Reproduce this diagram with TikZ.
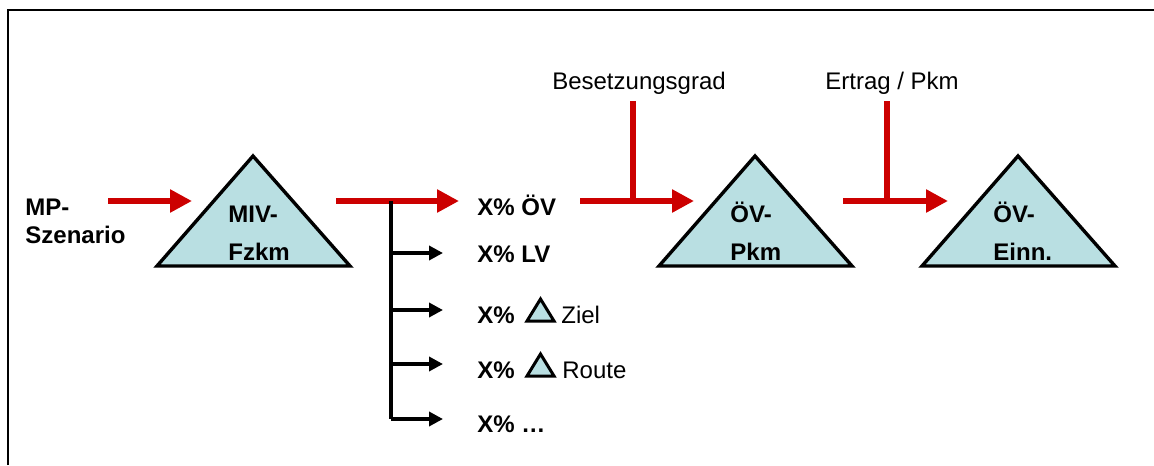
\documentclass[tikz,border=0pt]{standalone}
\usepackage{fontspec}
\setmainfont{Liberation Sans}
\usepackage{xcolor}
\definecolor{flowRed}{HTML}{CC0000}
\definecolor{stockBlue}{HTML}{B9DFE2}
\usetikzlibrary{arrows.meta,positioning}

\begin{document}
\begin{tikzpicture}[x=0.5pt,y=-0.5pt,
  every node/.style={inner sep=0pt,anchor=base west,font=\fontsize{12}{14}\selectfont},
  lbl/.style={font=\fontsize{12}{14}\selectfont\bfseries},
  stocklbl/.style={align=left,font=\fontsize{12}{19}\selectfont\bfseries},
  stock/.style={draw=black,line width=1.7pt,fill=stockBlue,line join=miter},
  mini/.style={draw=black,line width=1.5pt,fill=stockBlue},
  flow/.style={draw=flowRed,line width=3pt,-{Triangle[length=11pt,width=11pt]}},
  feed/.style={draw=flowRed,line width=2.6pt},
  split/.style={draw=black,line width=2.2pt,-{Triangle[length=7pt,width=7pt]}}]
  \useasboundingbox (0,0) rectangle (1154,465);
  % frame, only top and left edge are visible
  \draw[line width=1.2pt] (8,465) -- (8,10) -- (1154,10);

  % stocks
  \draw[stock] (253,156) -- (350,266) -- (157,266) -- cycle;
  \draw[stock] (755,156) -- (852,266) -- (659,266) -- cycle;
  \draw[stock] (1018,156) -- (1115,266) -- (922,266) -- cycle;
  % multi-line nodes sit on the baseline of their last line
  \node[stocklbl] (miv) at (228,260) {MIV-\\Fzkm};
  \node[stocklbl] (ovpkm) at (730,260) {ÖV-\\Pkm};
  \node[stocklbl] (ovein) at (993,260) {ÖV-\\Einn.};

  % input scenario
  \node[lbl,align=left] (scen) at (25,243) {MP-\\Szenario};

  % shares after the split
  \node[lbl] (ov) at (477,215) {X\% ÖV};
  \node[lbl] (lv) at (477,262) {X\% LV};
  \node[lbl] (ziel) at (477,323) {X\%};
  \node (zieltxt) at (561,323) {Ziel};
  \node[lbl] (route) at (477,378) {X\%};
  \node (routetxt) at (562,378) {Route};
  \node[lbl] (rest) at (477,432) {X\% …};
  \draw[mini] (540.5,299) -- (554,321) -- (527,321) -- cycle;
  \draw[mini] (540.5,354) -- (554,376) -- (527,376) -- cycle;

  % factors
  \node[anchor=base] (besetz) at (639,90) {Besetzungsgrad};
  \node[anchor=base] (ertrag) at (892,90) {Ertrag / Pkm};

  % connector ends
  \coordinate (in-a) at (108,201);
  \coordinate (in-b) at (192,201);
  \coordinate (miv-a) at (336,201);
  \coordinate (miv-b) at (459,201);
  \coordinate (ov-a) at (580,201);
  \coordinate (ov-b) at (694,201);
  \coordinate (pkm-a) at (843,201);
  \coordinate (pkm-b) at (948,201);
  \coordinate (besetz-a) at (633,101);
  \coordinate (besetz-b) at (633,201);
  \coordinate (ertrag-a) at (887,101);
  \coordinate (ertrag-b) at (887,201);
  \coordinate (fork) at (391,201);
  \foreach \nm/\y in {lv/253,ziel/310,route/364,rest/419}{
    \coordinate (\nm-t) at (391,\y);
    \coordinate (\nm-h) at (443,\y);
  }

  % red main flow
  \draw[flow] (in-a) -- (in-b);
  \draw[flow] (miv-a) -- (miv-b);
  \draw[feed] (besetz-a) -- (besetz-b);
  \draw[flow] (ov-a) -- (ov-b);
  \draw[feed] (ertrag-a) -- (ertrag-b);
  \draw[flow] (pkm-a) -- (pkm-b);

  % black split
  \draw[line width=2.2pt] (fork) -- (rest-t);
  \foreach \nm in {lv,ziel,route,rest}
    \draw[split] (\nm-t) -- (\nm-h);
\end{tikzpicture}
\end{document}
